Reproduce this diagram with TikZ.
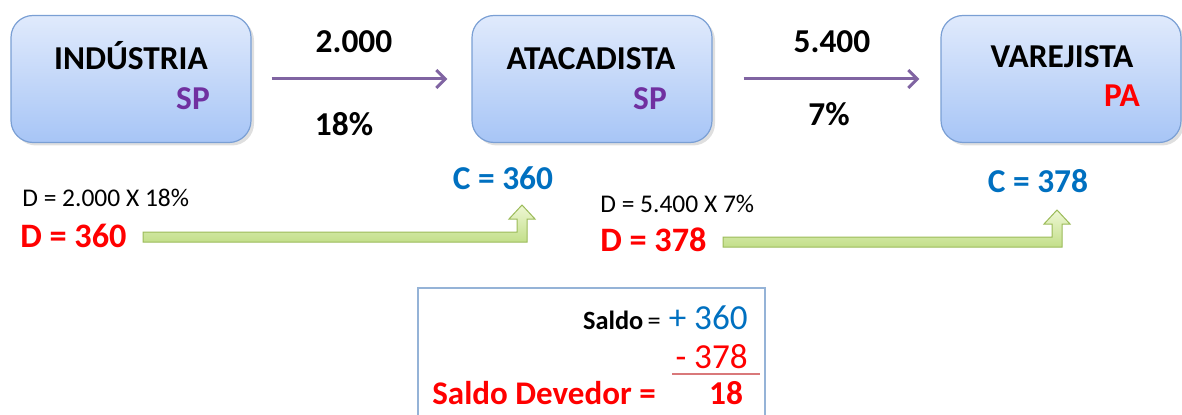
\documentclass[tikz,border=0pt]{standalone}
\usepackage{fontspec}
\setmainfont{Carlito}
\usetikzlibrary{arrows.meta,calc,shadows,positioning}
\newlength\px
\setlength\px{0.02cm}
\definecolor{boxtop}{HTML}{E0EAFC}
\definecolor{boxbot}{HTML}{A7C5F6}
\definecolor{boxline}{HTML}{7A9FD4}
\definecolor{flowline}{HTML}{8064A2}
\definecolor{ufpurple}{HTML}{7030A0}
\definecolor{credit}{HTML}{0070C0}
\definecolor{greentop}{HTML}{EEF7D4}
\definecolor{greenbot}{HTML}{C3DF8A}
\definecolor{greenline}{HTML}{9BBB59}
\definecolor{saldoline}{HTML}{95B3D7}
\definecolor{sumline}{HTML}{D9787A}
\newcommand{\blockup}[2]{%
	\path[greenflow] ($(#1)+(0,-5)$) -- ($(#2|-#1)+(-5,-5)$) -- ($(#2)+(-5,14)$)
		-- ($(#2)+(-13,14)$) -- (#2) -- ($(#2)+(13,14)$) -- ($(#2)+(5,14)$)
		-- ($(#2|-#1)+(5,5)$) -- ($(#1)+(0,5)$) -- cycle;}
\begin{document}
\begin{tikzpicture}[
	x=0.02cm, y=-0.02cm,
	every node/.style={inner sep=0pt},
	agent/.style={draw=boxline, line width=1.2\px, rounded corners=22\px,
		top color=boxtop, bottom color=boxbot,
		minimum width=240\px, minimum height=127\px,
		drop shadow={opacity=0.25, shadow xshift=3\px, shadow yshift=-3\px}},
	title/.style={anchor=base, font=\fontsize{19}{21}\selectfont\bfseries},
	uf/.style={anchor=base, font=\fontsize{19}{21}\selectfont\bfseries},
	flow/.style={draw=flowline, line width=3\px, -{Straight Barb[length=5.1pt,width=10.2pt]}},
	amount/.style={anchor=base, font=\fontsize{19}{21}\selectfont\bfseries},
	formula/.style={anchor=base west, font=\fontsize{14.5}{16}\selectfont},
	debit/.style={anchor=base west, text=red, font=\fontsize{19.5}{21}\selectfont\bfseries},
	credit/.style={anchor=base, text=credit, font=\fontsize{19}{21}\selectfont\bfseries},
	greenflow/.style={draw=greenline, line width=1\px, top color=greentop, bottom color=greenbot},
	]
\useasboundingbox (0,0) rectangle (1182,415);
\node [agent] (ind) at (131,79) {};
\node [agent] (ata) at (592,79) {};
\node [agent] (var) at (1061,79) {};
\node [title] (indt) at (131,70) {INDÚSTRIA};
\node [uf, text=ufpurple] (indsp) at (193,110) {SP};
\node [title] (atat) at (591,70) {ATACADISTA};
\node [uf, text=ufpurple] (atasp) at (650,110) {SP};
\node [title] (vart) at (1062,68) {VAREJISTA};
\node [uf, text=red] (varpa) at (1122,107) {PA};
\draw [flow, shorten <=20\px, shorten >=24\px] (ind.east) -- (ata.west);
\draw [flow, shorten <=31\px, shorten >=21\px] (ata.east) -- (var.west);
\node [amount] (v1) at (354,53) {2.000};
\node [amount] (r1) at (344,136) {18\%};
\node [amount] (v2) at (832,53) {5.400};
\node [amount] (r2) at (829,126) {7\%};
\node [credit] (c1) at (503,190) {C = 360};
\node [credit] (c2) at (1038,193) {C = 378};
\node [formula] (f1) at (22,207) {D = 2.000 X 18\%};
\node [debit] (d1) at (20,247) {D = 360};
\node [formula] (f2) at (600,213) {D = 5.400 X 7\%};
\node [debit] (d2) at (600,251) {D = 378};
\coordinate (g1s) at (143,237);
\coordinate (g1e) at (522,205);
\coordinate (g2s) at (723,242);
\coordinate (g2e) at (1057,210);
\blockup{g1s}{g1e}
\blockup{g2s}{g2e}
\draw [draw=saldoline, line width=1.5\px] (418,420) -- (418,288) -- (765,288) -- (765,420);
\node [anchor=base east, text=credit, font=\fontsize{20}{22}\selectfont] (s1) at (748,329)
	{{\color{black}\fontsize{15}{17}\selectfont\bfseries Saldo}{\color{black}\fontsize{15}{17}\selectfont\,=} + 360};
\node [anchor=base east, text=red, font=\fontsize{20}{22}\selectfont] (s2) at (748,368) {- 378};
\draw [draw=sumline, line width=1.2\px] (672,374) -- (760,374);
\node [anchor=base west, text=red, font=\fontsize{18.8}{21}\selectfont\bfseries] (s3) at (432,404) {Saldo Devedor =};
\node [anchor=base, text=red, font=\fontsize{19}{21}\selectfont\bfseries] (s4) at (726,404) {18};
\end{tikzpicture}
\end{document}
